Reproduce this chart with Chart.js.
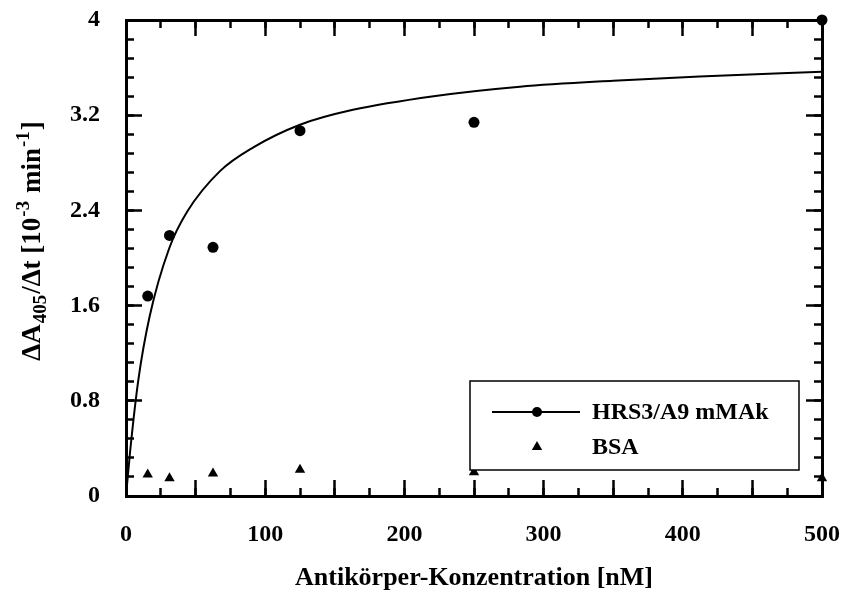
<!DOCTYPE html>
<html>
<head>
<meta charset="utf-8">
<title>Antikörper-Konzentration</title>
<script src="https://cdn.jsdelivr.net/npm/chart.js@4.4.1/dist/chart.umd.min.js"></script>
<style>
  html, body { margin: 0; padding: 0; background: #fff; }
  canvas { display: block; }
</style>
</head>
<body>
<canvas id="bindChart" width="847" height="594"></canvas>
<script>
// Messpunkte, Konzentration in nM
const konzentration = [15.6, 31.25, 62.5, 125, 250, 500];
const hrsWerte = [1.68, 2.19, 2.09, 3.07, 3.14, 4.0];
const bsaWerte = [0.18, 0.15, 0.19, 0.22, 0.2, 0.15];

// Fitkurve
const kurveX = [0, 3, 8.8, 17, 31, 44, 67.5, 91.5, 125, 163, 221, 283, 350, 412, 500];
const kurveY = [0, 0.38, 0.97, 1.51, 2.08, 2.39, 2.73, 2.93, 3.12, 3.245, 3.36, 3.44, 3.49, 3.525, 3.565];

// Achsenbeschriftung
const xLabels = [0, 100, 200, 300, 400, 500];
const yLabels = [0, 0.8, 1.6, 2.4, 3.2, 4];
const serien = ["HRS3/A9 mMAk", "BSA"];
const xTitel = "Antikörper-Konzentration [nM]";
// y-Titel in Stücken: normal, tief, hoch
const yTitel = [
    { t: "\u0394A" },
    { t: "405", pos: "sub" },
    { t: "/\u0394t [10" },
    { t: "-3", pos: "sup" },
    { t: " min" },
    { t: "-1", pos: "sup" },
    { t: "]" },
];

const FONT = '"Liberation Serif", "Times New Roman", serif';

function toPoints(xs, ys) {
    return xs.map((x, i) => ({ x: x, y: ys[i] }));
}

function ohnePadding(s) {
    s.paddingLeft = 0;
    s.paddingRight = 0;
    s.paddingTop = 0;
    s.paddingBottom = 0;
}

// Rahmenachse ohne Beschriftung, Striche nach innen
function rahmen(position, min, max, step, len, border, weight) {
    const horizontal = position === "top" || position === "bottom";
    return {
        type: "linear",
        position: position,
        min: min,
        max: max,
        weight: weight,
        border: { display: border, color: "#000", width: 3 },
        grid: { drawOnChartArea: false, tickLength: -len, tickColor: "#000", tickWidth: 2.5 },
        ticks: { display: false, stepSize: step },
        afterFit: function (s) {
            if (horizontal) s.height = 0;
            else s.width = 0;
            ohnePadding(s);
        },
    };
}

// y-Titel mit Index und Exponent
const yTitelPlugin = {
    id: "yTitel",
    afterDraw(chart) {
        const ctx = chart.ctx;
        const big = "bold 27px " + FONT;
        const small = "bold 19px " + FONT;
        let total = 0;
        yTitel.forEach((p) => {
            ctx.font = p.pos ? small : big;
            total += ctx.measureText(p.t).width + (p.pos ? 2 : 0);
        });
        const mitte = (chart.chartArea.top + chart.chartArea.bottom) / 2 - 17;
        ctx.save();
        ctx.translate(40, mitte + total / 2);
        ctx.rotate(-Math.PI / 2);
        ctx.fillStyle = "#000";
        ctx.textBaseline = "alphabetic";
        let x = 0;
        yTitel.forEach((p) => {
            ctx.font = p.pos ? small : big;
            const dy = p.pos === "sub" ? 6 : p.pos === "sup" ? -11 : 0;
            ctx.fillText(p.t, x + (p.pos ? 1 : 0), dy);
            x += ctx.measureText(p.t).width + (p.pos ? 2 : 0);
        });
        ctx.restore();
    },
};

// Legende im Diagramm, über den Punkten
const legendePlugin = {
    id: "legende",
    afterDraw(chart) {
        const ctx = chart.ctx;
        const a = chart.chartArea;
        const bx = a.left + 344, by = a.top + 361, bw = 329, bh = 89;
        ctx.save();
        ctx.fillStyle = "#fff";
        ctx.fillRect(bx, by, bw, bh);
        ctx.strokeStyle = "#000";
        ctx.lineWidth = 1.5;
        ctx.strokeRect(bx, by, bw, bh);

        const mx = bx + 67;
        const y1 = by + 31, y2 = by + 66;
        ctx.lineWidth = 2;
        ctx.beginPath();
        ctx.moveTo(bx + 22, y1);
        ctx.lineTo(bx + 110, y1);
        ctx.stroke();
        ctx.fillStyle = "#000";
        Chart.helpers.drawPoint(ctx, { pointStyle: "circle", radius: 5, borderWidth: 0 }, mx, y1);
        Chart.helpers.drawPoint(ctx, { pointStyle: "triangle", radius: 6, borderWidth: 0 }, mx, y2);

        ctx.font = "bold 24px " + FONT;
        ctx.textBaseline = "middle";
        ctx.textAlign = "left";
        ctx.fillText(serien[0], bx + 122, y1 + 1);
        ctx.fillText(serien[1], bx + 122, y2 + 1);
        ctx.restore();
    },
};

const ctx = document.getElementById("bindChart").getContext("2d");

new Chart(ctx, {
    type: "scatter",
    data: {
        datasets: [
            {
                label: "Fit",
                data: toPoints(kurveX, kurveY),
                showLine: true,
                borderColor: "#000",
                borderWidth: 2,
                pointRadius: 0,
                cubicInterpolationMode: "monotone",
                clip: false,
            },
            {
                label: serien[0],
                data: toPoints(konzentration, hrsWerte),
                pointStyle: "circle",
                pointRadius: 5.5,
                backgroundColor: "#000",
                borderColor: "#000",
                borderWidth: 0,
                clip: false,
            },
            {
                label: serien[1],
                data: toPoints(konzentration, bsaWerte),
                pointStyle: "triangle",
                pointRadius: 6,
                backgroundColor: "#000",
                borderColor: "#000",
                borderWidth: 0,
                clip: false,
            },
        ],
    },
    options: {
        responsive: false,
        animation: false,
        layout: { padding: { top: 20, right: 25, left: 0, bottom: 0 } },
        plugins: {
            legend: { display: false },
            tooltip: { enabled: false },
        },
        scales: {
            x: {
                type: "linear",
                position: "bottom",
                min: 0,
                max: 500,
                weight: 1,
                border: { display: true, color: "#000", width: 3 },
                grid: { drawOnChartArea: false, tickLength: -16, tickColor: "#000", tickWidth: 2.5 },
                ticks: {
                    stepSize: 50,
                    autoSkip: false,
                    maxRotation: 0,
                    padding: 40,
                    color: "#000",
                    font: { family: FONT, size: 24, weight: "bold" },
                    callback: (v) => (xLabels.includes(v) ? String(v) : ""),
                },
                title: {
                    display: true,
                    text: xTitel,
                    color: "#000",
                    font: { family: FONT, size: 26, weight: "bold" },
                    padding: { top: 0, bottom: 0 },
                },
                afterFit: function (s) {
                    s.height = 98;
                    ohnePadding(s);
                },
            },
            xMinor: rahmen("bottom", 0, 500, 25, 8, false, 0),
            xTop: rahmen("top", 0, 500, 50, 16, true, 1),
            xTopMinor: rahmen("top", 0, 500, 25, 8, false, 0),
            y: {
                type: "linear",
                position: "left",
                min: 0,
                max: 4,
                weight: 1,
                border: { display: true, color: "#000", width: 3 },
                grid: { drawOnChartArea: false, tickLength: -16, tickColor: "#000", tickWidth: 2.5 },
                ticks: {
                    padding: 42,
                    color: "#000",
                    font: { family: FONT, size: 24, weight: "bold" },
                    callback: (v) => String(v),
                },
                afterBuildTicks: function (s) {
                    s.ticks = yLabels.map((v) => ({ value: v }));
                },
                afterFit: function (s) {
                    s.width = 126;
                    ohnePadding(s);
                },
            },
            yMinor: rahmen("left", 0, 4, 0.16, 8, false, 0),
            yRight: rahmen("right", 0, 4, 0.8, 16, true, 1),
            yRightMinor: rahmen("right", 0, 4, 0.16, 8, false, 0),
        },
    },
    plugins: [yTitelPlugin, legendePlugin],
});
</script>
</body>
</html>
